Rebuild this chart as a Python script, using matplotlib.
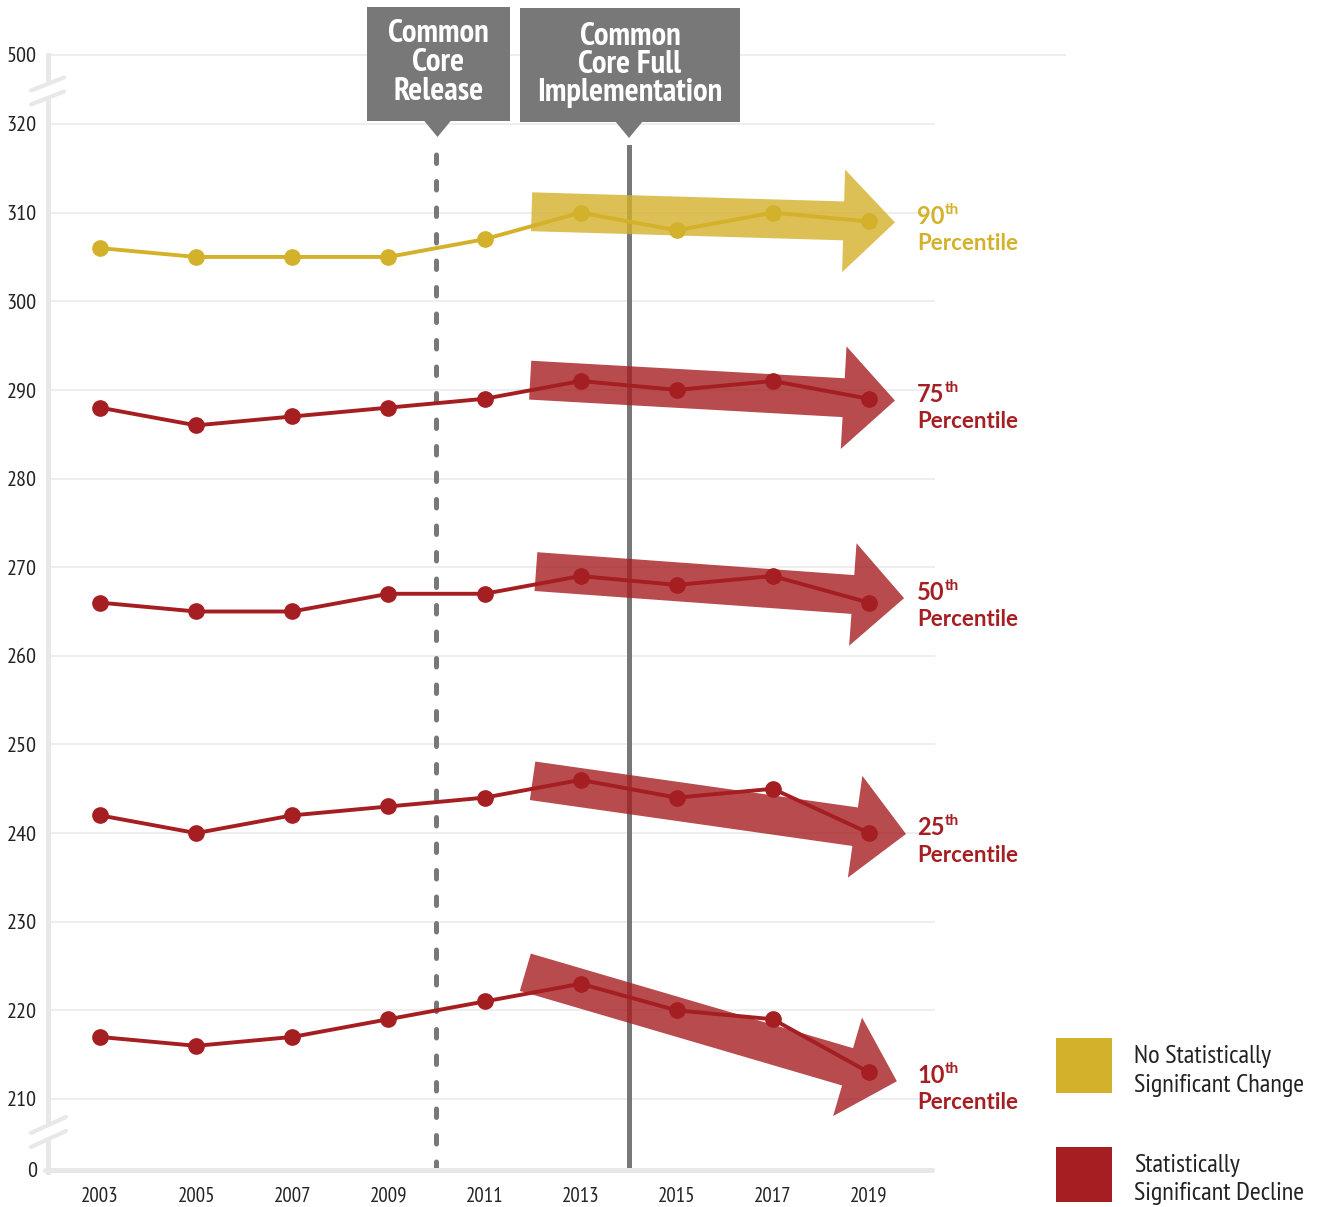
import matplotlib
matplotlib.use("Agg")
import matplotlib.pyplot as plt
from matplotlib.patches import FancyArrowPatch, Rectangle, Polygon, ArrowStyle
from matplotlib.lines import Line2D
from matplotlib.transforms import Affine2D
import logging
logging.getLogger('matplotlib.font_manager').setLevel(logging.ERROR)

NARROW = ['PT Sans Narrow', 'Roboto Condensed', 'Fira Sans Condensed', 'Archivo Narrow', 'DejaVu Sans']
SANS = ['Lato', 'Roboto', 'DejaVu Sans']
plt.rcParams['font.family'] = NARROW

# ---------------- data ----------------
years = [2003, 2005, 2007, 2009, 2011, 2013, 2015, 2017, 2019]
p90 = [306, 305, 305, 305, 307, 310, 308, 310, 309]
p75 = [288, 286, 287, 288, 289, 291, 290, 291, 289]
p50 = [266, 265, 265, 267, 267, 269, 268, 269, 266]
p25 = [242, 240, 242, 243, 244, 246, 244, 245, 240]
p10 = [217, 216, 217, 219, 221, 223, 220, 219, 213]
percentile_names = ["90", "75", "50", "25", "10"]
significance = ["none", "decline", "decline", "decline", "decline"]

# trend arrows (start year, start value, end year, end value)
arrow_x0 = [2011.98, 2011.95, 2012.07, 2012.00, 2011.85]
arrow_y0 = [310.1, 291.1, 269.5, 245.9, 224.3]
arrow_x1 = [2019.54, 2019.54, 2019.73, 2019.77, 2019.58]
arrow_y1 = [308.9, 288.8, 266.5, 239.9, 212.0]

ytick_vals = [210, 220, 230, 240, 250, 260, 270, 280, 290, 300, 310, 320]
xtick_labels = [str(y) for y in years]
event_years = [2010, 2014]
event_labels = [["Common", "Core", "Release"], ["Common", "Core Full", "Implementation"]]
legend_labels = [["No Statistically", "Significant Change"], ["Statistically", "Significant Decline"]]

GOLD = "#D4B12A"
RED = "#A51E22"
GRAY = "#787878"
colors = {"none": GOLD, "decline": RED}

# ---------------- figure ----------------
W, H = 1317, 1207
fig = plt.figure(figsize=(W / 100, H / 100), dpi=100)
pix = Affine2D().scale(1 / W, -1 / H).translate(0, 1) + fig.transFigure

ax_l, ax_r, ax_t, ax_b = 48, 935, 55, 1170
ax = fig.add_axes([ax_l / W, 1 - ax_b / H, (ax_r - ax_l) / W, (ax_b - ax_t) / H])
ppy = (1099 - 124) / 110.0       # px per score unit
ppx = (869 - 100) / 16.0         # px per year
xmin = 2003 - (100 - ax_l) / ppx
xmax = 2003 + (ax_r - 100) / ppx
ymin = 210 - (ax_b - 1099) / ppy
ymax = 320 + (124 - ax_t) / ppy
ax.set_xlim(xmin, xmax)
ax.set_ylim(ymin, ymax)
for s in ax.spines.values():
    s.set_visible(False)

ax.set_yticks([ymin] + ytick_vals + [ymax])
ax.set_yticklabels(["0"] + [str(v) for v in ytick_vals] + ["500"])
ax.set_xticks(years)
ax.set_xticklabels(xtick_labels)
ax.tick_params(axis='y', length=0, pad=8, labelsize=16, labelcolor="#222222")
ax.tick_params(axis='x', length=0, pad=12, labelsize=15, labelcolor="#222222")

# gridlines
for v in ytick_vals:
    ax.axhline(v, color="#EEEEEE", lw=1.4, zorder=0)
ax.plot([2 / (ax_r - ax_l), (1065 - ax_l) / (ax_r - ax_l)], [1, 1], transform=ax.transAxes,
        color="#EEEEEE", lw=1.4, clip_on=False, zorder=0)

# axis lines (pixel space)
SP = "#E8E8E8"
fig.add_artist(Line2D([47.5, 47.5], [ax_t, ax_b + 2], transform=pix, color=SP, lw=3.6, zorder=1))
fig.add_artist(Line2D([45, 932], [1170, 1170], transform=pix, color=SP, lw=3.6,
                      solid_capstyle='round', zorder=1))
# axis breaks
for (a, b) in [((31, 90.5), (64, 77.5)), ((31, 1133), (66, 1117))]:
    fig.add_artist(Line2D([a[0], b[0]], [a[1] + 7, b[1] + 7], transform=pix, color="white", lw=8, zorder=2))
    fig.add_artist(Line2D([a[0], b[0]], [a[1], b[1]], transform=pix, color=SP, lw=3,
                          solid_capstyle='round', zorder=3))
    fig.add_artist(Line2D([a[0], b[0]], [a[1] + 14, b[1] + 14], transform=pix, color=SP, lw=3,
                          solid_capstyle='round', zorder=3))

# event lines
ytop_frac = (ax_b - 147) / (ax_b - ax_t)
ax.plot([event_years[0]] * 2, [0, ytop_frac], transform=ax.get_xaxis_transform(),
        color=GRAY, lw=3.6, ls=(0, (1.7, 3.6)), dash_capstyle='round', zorder=1, clip_on=False)
ax.plot([event_years[1]] * 2, [0.002, ytop_frac], transform=ax.get_xaxis_transform(),
        color=GRAY, lw=3.6, zorder=1, clip_on=False)

# event boxes (pixel layout)
boxes = [(367, 7, 510, 121, 437.5, [42, 71, 100]), (520, 8, 740, 122, 629, [45, 73, 101])]
for (x0, y0, x1, y1, cx, bases), lines in zip(boxes, event_labels):
    fig.add_artist(Rectangle((x0, y0), x1 - x0, y1 - y0, transform=pix, color=GRAY, lw=0, zorder=5))
    fig.add_artist(Polygon([(cx - 14, y1 - 1), (cx + 14, y1 - 1), (cx, y1 + 16)], closed=True,
                           transform=pix, color=GRAY, lw=0, zorder=5))
    for txt, by in zip(lines, bases):
        fig.text(((x0 + x1) / 2) / W, 1 - by / H, txt, ha='center', va='baseline', color='white',
                 fontsize=23.5, fontweight='bold', zorder=6)

# trend arrows
style = ArrowStyle.Simple(head_length=37, head_width=74, tail_width=28)
for i, sig in enumerate(significance):
    arr = FancyArrowPatch((arrow_x0[i], arrow_y0[i]), (arrow_x1[i], arrow_y1[i]), arrowstyle=style,
                          mutation_scale=1, shrinkA=0, shrinkB=0, facecolor=colors[sig],
                          edgecolor='none', lw=0, alpha=0.8, zorder=2)
    ax.add_patch(arr)

# lines
for vals, sig in zip([p90, p75, p50, p25, p10], significance):
    ax.plot(years, vals, color=colors[sig], lw=2.8, marker='o', ms=11, zorder=4, clip_on=False)

# percentile labels
num_texts = []
for i, (name, sig) in enumerate(zip(percentile_names, significance)):
    c = colors[sig]
    t = ax.annotate(name, xy=(2020.0, arrow_y1[i]), xytext=(0, -1),
                    textcoords='offset points', ha='left', va='baseline', color=c, fontsize=17,
                    fontweight='bold', family=SANS, annotation_clip=False)
    num_texts.append((t, c))
    ax.annotate("Percentile", xy=(2020.0, arrow_y1[i]), xytext=(0, -20),
                textcoords='offset points', ha='left', va='baseline', color=c, fontsize=16,
                fontweight='bold', family=SANS, annotation_clip=False)

# legend
for (sq_y, tb), lines, col in zip([(1038, [1063, 1092]), (1147, [1172, 1200])], legend_labels, [GOLD, RED]):
    fig.add_artist(Rectangle((1056, sq_y), 56, 55, transform=pix, color=col, lw=0))
    for txt, by in zip(lines, tb):
        fig.text(1134 / W, 1 - by / H, txt, ha='left', va='baseline', fontsize=19, color="#222222")

# superscripts "th" placed right after each number
fig.canvas.draw()
renderer = fig.canvas.get_renderer()
inv = fig.transFigure.inverted()
for t, c in num_texts:
    bb = t.get_window_extent(renderer)
    fx, fy = inv.transform((bb.x1, bb.y1 + 2))
    fig.text(fx, fy, "th", ha='left', va='top', color=c, fontsize=11, fontweight='bold', family=SANS)

fig.savefig("out.png", dpi=100)
